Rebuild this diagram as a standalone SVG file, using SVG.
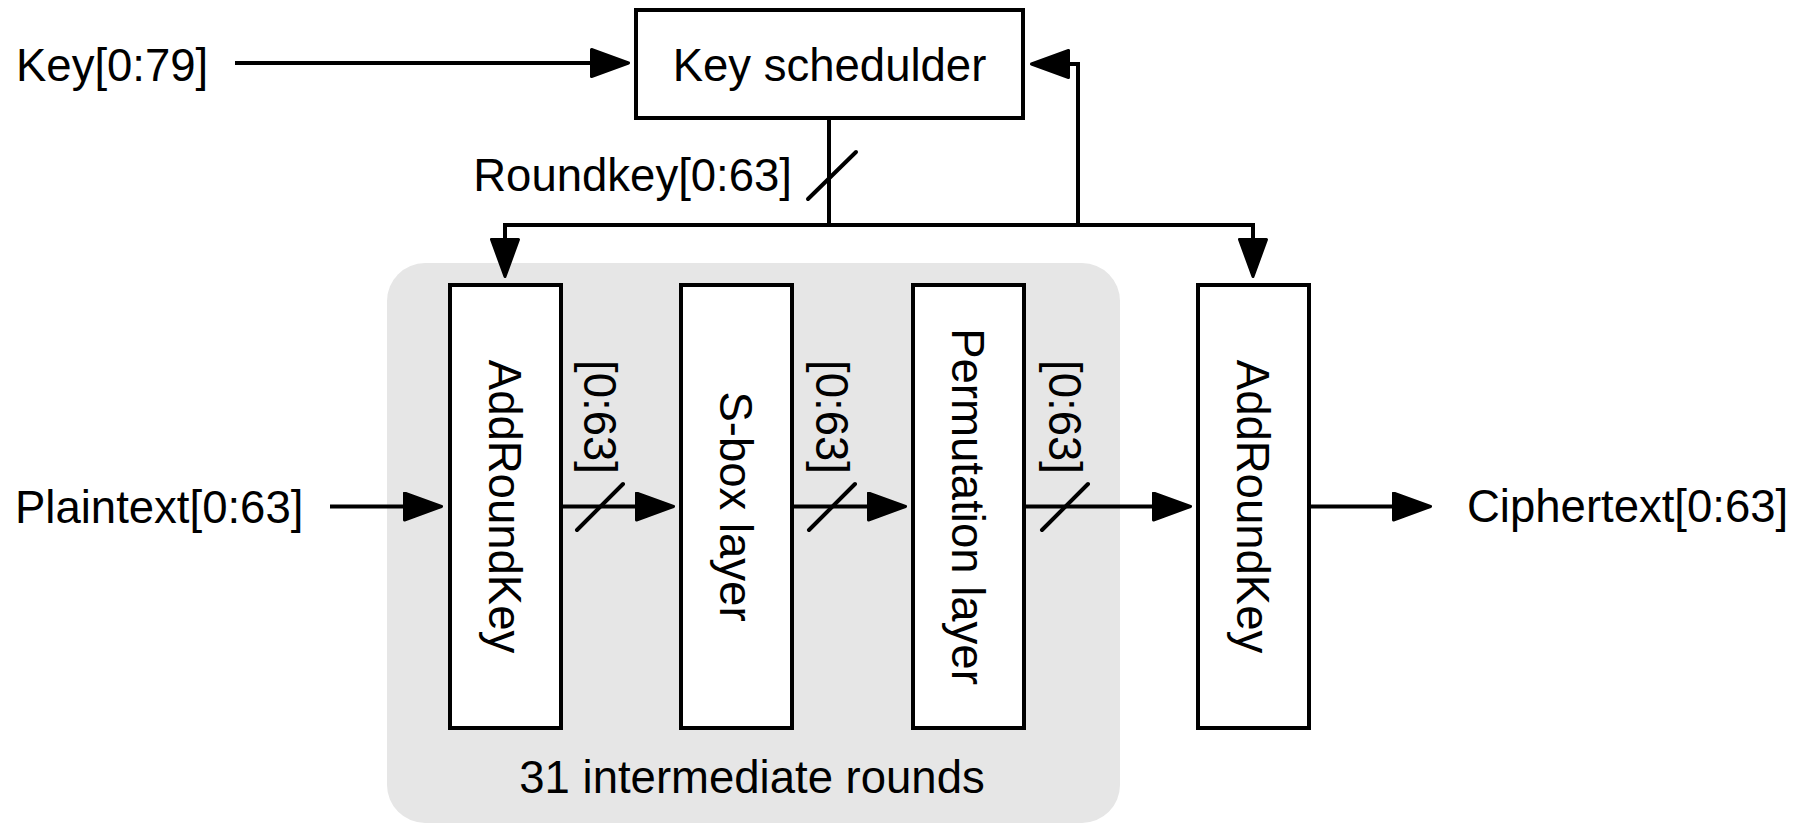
<svg xmlns="http://www.w3.org/2000/svg" width="1812" height="824" viewBox="0 0 1812 824">
  <style>
    text { font-family: "Liberation Sans", Arial, Helvetica, sans-serif; font-size: 45.5px; fill: #000; }
    .box { fill: #fff; stroke: #000; stroke-width: 4; }
    .wire { fill: none; stroke: #000; stroke-width: 4; stroke-linejoin: miter; }
    .arrow { marker-end: url(#head); }
    .bus { stroke: #000; stroke-width: 4; stroke-linecap: round; }
    .mid { text-anchor: middle; }
  </style>
  <defs>
    <marker id="head" viewBox="0 0 40 30" refX="0" refY="15" markerWidth="40" markerHeight="30" orient="auto" markerUnits="userSpaceOnUse">
      <path d="M1.5,1.5 L38.5,15 L1.5,28.5 Z" fill="#000" stroke="#000" stroke-width="3" stroke-linejoin="round"/>
    </marker>
  </defs>

  <!-- shaded region holding the repeated rounds -->
  <g id="rounds-group">
    <rect x="387" y="263" width="733" height="560" rx="38" ry="38" fill="#e6e6e6"/>
    <text class="mid" x="752" y="793">31 intermediate rounds</text>
  </g>

  <!-- connectors -->
  <g id="connectors">
    <path class="wire arrow" d="M235,63 H590"/>
    <path class="wire arrow" d="M829,118 V225 H505 V238"/>
    <path class="wire arrow" d="M829,225 H1253 V238"/>
    <path class="wire arrow" d="M1078,225 V64 H1070"/>
    <path class="wire arrow" d="M330,506.5 H403"/>
    <path class="wire arrow" d="M561,506.5 H635"/>
    <path class="wire arrow" d="M792,506.5 H867"/>
    <path class="wire arrow" d="M1024,506.5 H1152"/>
    <path class="wire arrow" d="M1309,506.5 H1392"/>
    <!-- 64-bit bus ticks -->
    <line class="bus" x1="808" y1="199" x2="856" y2="152"/>
    <line class="bus" x1="577" y1="530" x2="623" y2="484"/>
    <line class="bus" x1="809" y1="530" x2="855" y2="484"/>
    <line class="bus" x1="1042" y1="530" x2="1088" y2="484"/>
    <text x="792" y="191" text-anchor="end">Roundkey[0:63]</text>
    <text class="mid" transform="translate(583.7,417) rotate(90)">[0:63]</text>
    <text class="mid" transform="translate(815.7,417) rotate(90)">[0:63]</text>
    <text class="mid" transform="translate(1048.7,417) rotate(90)">[0:63]</text>
  </g>

  <g id="key-input">
    <text x="16" y="81">Key[0:79]</text>
  </g>

  <g id="plaintext-input">
    <text x="15" y="523">Plaintext[0:63]</text>
  </g>

  <g id="ciphertext-output">
    <text x="1467" y="522">Ciphertext[0:63]</text>
  </g>

  <g id="key-scheduler">
    <rect class="box" x="636" y="10" width="387" height="108"/>
    <text class="mid" x="829.5" y="81">Key schedulder</text>
  </g>

  <g id="add-round-key-1">
    <rect class="box" x="450" y="285" width="111" height="443"/>
    <text class="mid" transform="translate(489.2,506.5) rotate(90)">AddRoundKey</text>
  </g>

  <g id="sbox-layer">
    <rect class="box" x="681" y="285" width="111" height="443"/>
    <text class="mid" transform="translate(720.2,506.5) rotate(90)">S-box layer</text>
  </g>

  <g id="permutation-layer">
    <rect class="box" x="913" y="285" width="111" height="443"/>
    <text class="mid" transform="translate(952.2,506.5) rotate(90)">Permutation layer</text>
  </g>

  <g id="add-round-key-final">
    <rect class="box" x="1198" y="285" width="111" height="443"/>
    <text class="mid" transform="translate(1237.2,506.5) rotate(90)">AddRoundKey</text>
  </g>
</svg>
